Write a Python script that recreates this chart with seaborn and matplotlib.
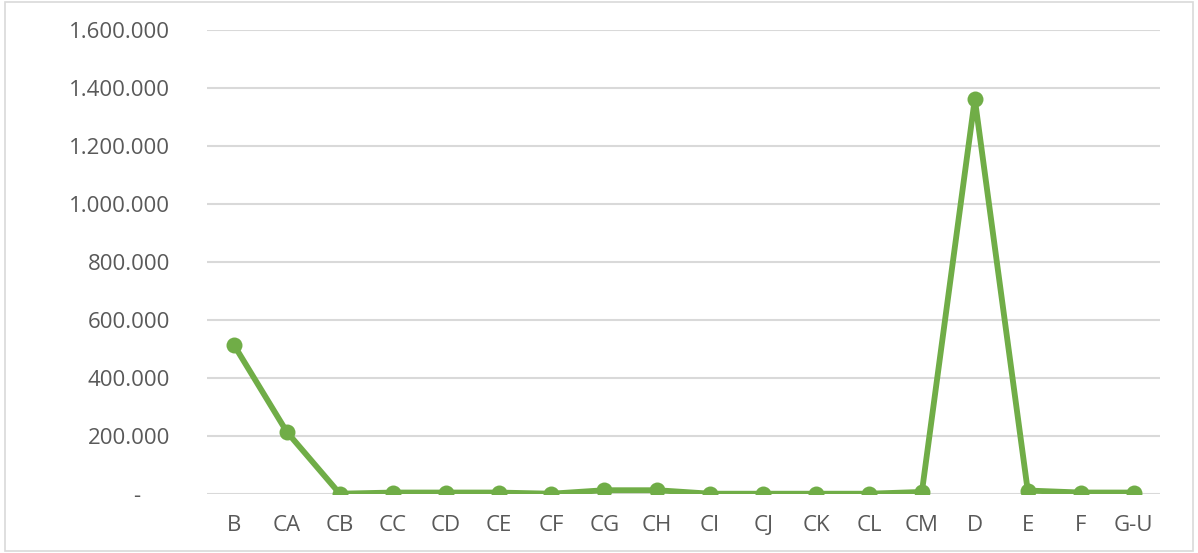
import matplotlib
matplotlib.use("Agg")
import matplotlib.pyplot as plt
import matplotlib.ticker as mticker
import numpy as np
import pandas as pd
import seaborn as sns

categories = ["B", "CA", "CB", "CC", "CD", "CE", "CF", "CG", "CH",
              "CI", "CJ", "CK", "CL", "CM", "D", "E", "F", "G-U"]
values = [514000, 214000, 1000, 5000, 5000, 5000, 1000, 13000, 13000,
          1000, 1000, 1000, 1000, 7000, 1362000, 12000, 5000, 5000]
yticks = [0, 200000, 400000, 600000, 800000, 1000000, 1200000, 1400000, 1600000]

green = "#70AD47"
grid = "#D9D9D9"
text = "#595959"

sns.set_theme(style="white")
plt.rcParams["font.family"] = ["Open Sans", "DejaVu Sans"]

df = pd.DataFrame({"cat": categories, "val": values})
df["x"] = np.arange(len(categories))

fig = plt.figure(figsize=(11.98, 5.53), dpi=100)
ax = fig.add_axes([0.1732, 0.1067, 0.9683 - 0.1732, 0.9458 - 0.1067])

sns.lineplot(data=df, x="x", y="val", ax=ax, color=green, linewidth=4.2,
             marker="o", markersize=11.5, markeredgewidth=0, zorder=3)

ax.set_xlim(-0.5, len(categories) - 0.5)
ax.set_ylim(0, 1600000)
ax.set_yticks(yticks)
# accounting style: zero shown as a dash, padded a bit from the right
ax.yaxis.set_major_formatter(mticker.FuncFormatter(
    lambda v, p: "-     " if v == 0 else f"{int(v):,}".replace(",", ".")))
ax.set_xticks(df["x"])
ax.set_xticklabels(categories)
ax.grid(axis="y", color=grid, linewidth=1.5)
ax.set_axisbelow(True)
for s in ax.spines.values():
    s.set_visible(False)
ax.tick_params(axis="both", length=0, labelsize=16, labelcolor=text)
ax.tick_params(axis="y", pad=27)
ax.tick_params(axis="x", pad=15)
ax.set_xlabel("")
ax.set_ylabel("")
if ax.get_legend():
    ax.get_legend().remove()

fig.patches.append(plt.Rectangle((0.004, 0.004), 0.992, 0.992, transform=fig.transFigure,
                                 fill=False, edgecolor=grid, linewidth=1.2))

fig.savefig("out.png", dpi=100)
